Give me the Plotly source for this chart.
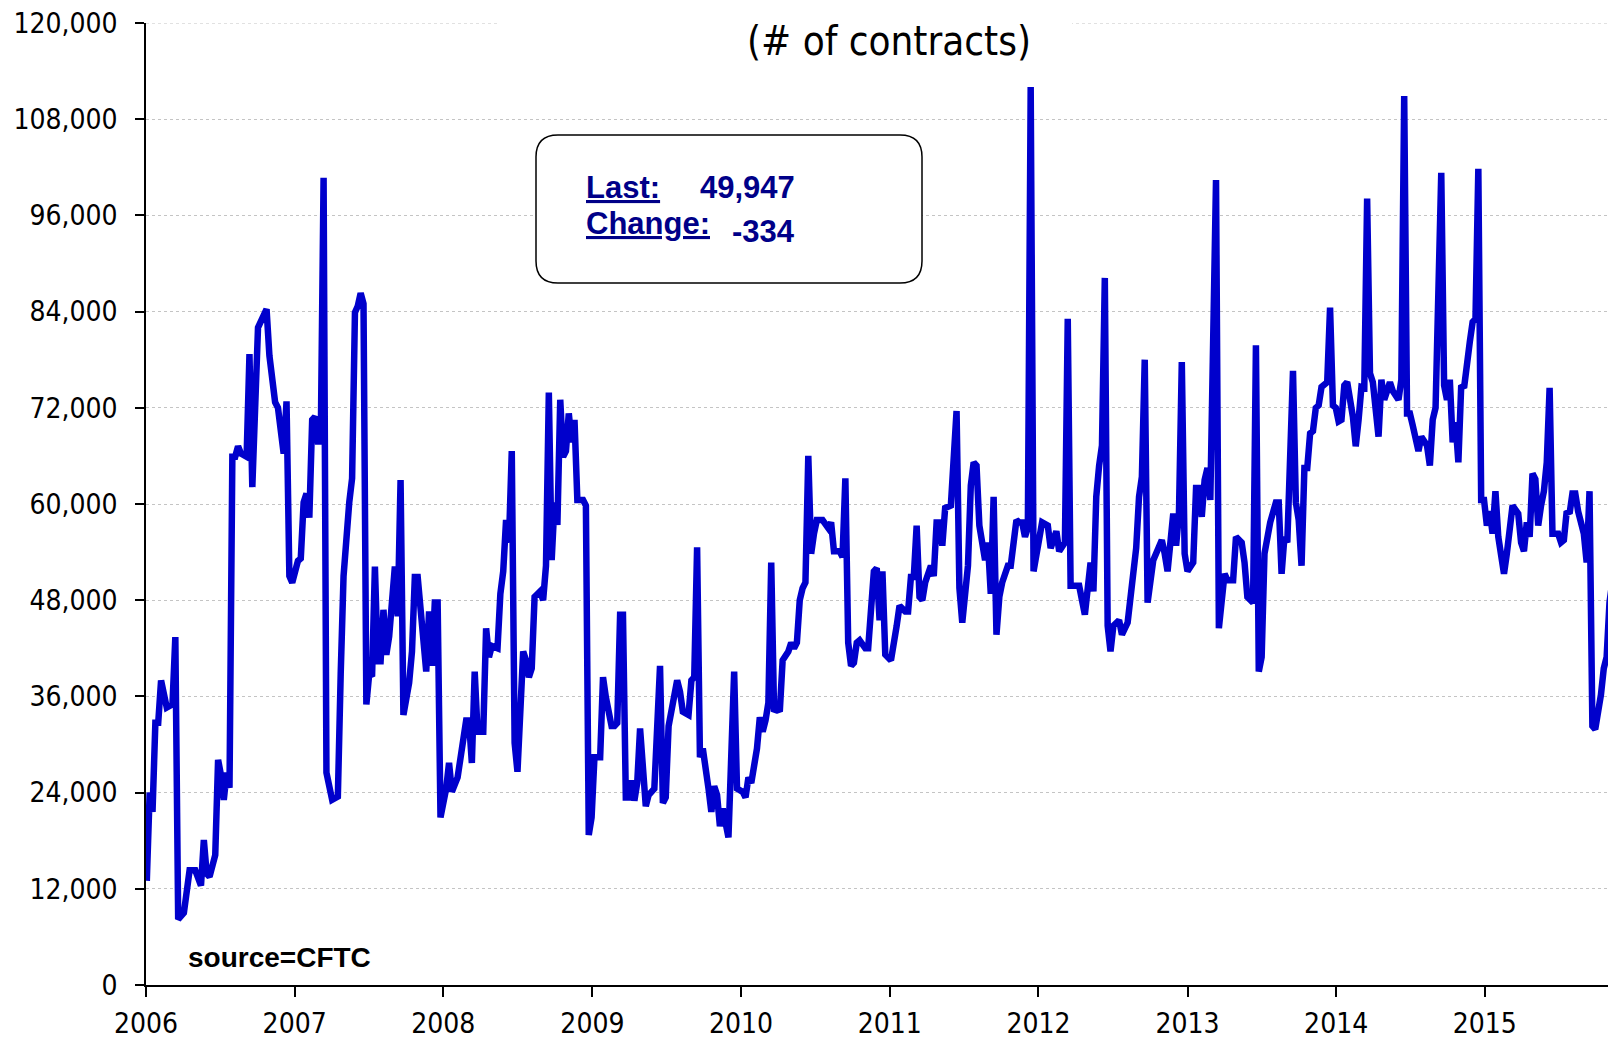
import pandas as pd
import plotly.graph_objects as go

# weeks since the first CFTC report of 2006 (Tue 2006-01-03)
weeks = [
    0, 1, 2, 3, 4, 5, 7, 9, 10, 11,
    13, 15, 17, 19, 20, 21, 22, 24, 25, 26,
    27, 28, 29, 30, 31, 32, 33, 35, 36, 37,
    39, 40, 42, 43, 45, 46, 48, 49, 50, 51,
    53, 54, 55, 56, 57, 58, 59, 60, 61, 62,
    63, 65, 67, 68, 69, 71, 72, 73, 74, 75,
    76, 77, 78, 79, 80, 81, 82, 83, 84, 85,
    87, 88, 89, 90, 92, 93, 94, 95, 97, 98,
    99, 100, 101, 102, 103, 105, 106, 107, 109, 110,
    111, 112, 113, 114, 115, 116, 118, 119, 120, 121,
    123, 124, 125, 126, 127, 128, 129, 130, 132, 133,
    134, 135, 136, 138, 139, 140, 141, 142, 143, 144,
    145, 146, 147, 148, 149, 150, 151, 153, 154, 155,
    156, 157, 159, 160, 161, 163, 164, 165, 166, 167,
    168, 169, 170, 171, 172, 173, 175, 176, 178, 180,
    181, 182, 183, 184, 185, 186, 187, 188, 190, 191,
    192, 193, 194, 195, 197, 198, 199, 200, 201, 202,
    204, 206, 207, 209, 210, 211, 212, 214, 215, 216,
    217, 218, 219, 220, 221, 222, 223, 225, 226, 227,
    228, 229, 230, 231, 232, 233, 234, 235, 237, 239,
    240, 241, 243, 244, 245, 246, 247, 248, 249, 250,
    252, 253, 255, 256, 257, 258, 259, 261, 263, 264,
    266, 267, 268, 269, 270, 271, 272, 273, 275, 276,
    277, 278, 279, 280, 282, 283, 284, 285, 286, 288,
    289, 290, 291, 292, 294, 295, 296, 297, 298, 299,
    300, 302, 303, 305, 306, 307, 308, 309, 310, 311,
    313, 314, 316, 317, 319, 320, 322, 323, 324, 326,
    327, 329, 330, 331, 332, 333, 334, 335, 336, 337,
    338, 339, 341, 342, 344, 345, 346, 347, 348, 349,
    350, 351, 353, 354, 355, 356, 357, 358, 360, 361,
    362, 363, 364, 365, 367, 368, 369, 370, 371, 372,
    373, 375, 376, 378, 379, 381, 382, 384, 385, 386,
    388, 389, 390, 391, 392, 394, 396, 397, 398, 399,
    400, 402, 403, 404, 405, 406, 407, 408, 409, 410,
    411, 412, 414, 415, 416, 417, 418, 419, 420, 421,
    423, 424, 425, 426, 427, 428, 429, 430, 432, 433,
    434, 436, 437, 439, 440, 441, 442, 443, 444, 446,
    447, 448, 449, 450, 451, 452, 454, 455, 456, 457,
    458, 459, 460, 461, 462, 464, 465, 466, 467, 468,
    469, 470, 471, 472, 473, 474, 476, 477, 478, 479,
    481, 482, 483, 484, 485, 486, 487, 488, 489, 490,
    491, 492, 493, 495, 496, 497, 498, 499, 500, 501,
    502, 504, 505, 506, 507, 508, 510, 511, 512, 513,
    514, 515,
]

contracts = [
    13000, 24000, 21600, 32700, 32700, 38000, 34600, 35000, 43400, 8200,
    9000, 14300, 14300, 12400, 18100, 13900, 13500, 16200, 28100, 26200,
    23100, 26500, 24600, 65900, 65900, 67200, 66300, 65900, 78700, 62100,
    82000, 82800, 84300, 78500, 72700, 72000, 66300, 72800, 51000, 50200,
    52900, 53200, 60200, 61300, 58300, 70500, 70900, 67800, 67800, 100700,
    26500, 23100, 23500, 38800, 51000, 60200, 63200, 83900, 84700, 86300,
    85000, 35000, 38800, 38500, 52200, 40400, 40400, 46800, 41200, 43500,
    52200, 46000, 63000, 33700, 37700, 41600, 50900, 50900, 43000, 39100,
    46600, 39800, 47700, 47700, 20900, 24500, 27700, 24100, 25900, 28700,
    30900, 33000, 33000, 27700, 39100, 31600, 31600, 44500, 40900, 42300,
    42000, 48800, 51600, 58000, 55200, 66600, 30200, 26600, 41600, 40500,
    38400, 39500, 48400, 49100, 48000, 52300, 73900, 53000, 60200, 57400,
    73000, 65900, 66600, 71300, 67700, 70500, 60500, 60500, 59800, 18700,
    20900, 28400, 28400, 38400, 35900, 32300, 32300, 32700, 46200, 46200,
    23400, 23400, 25500, 23000, 25200, 32000, 22300, 23700, 24500, 39800,
    22700, 23400, 32300, 34100, 36900, 38000, 36600, 34100, 33700, 38000,
    38400, 54600, 28400, 29500, 24500, 21600, 24800, 23700, 19800, 22000,
    18400, 39100, 24500, 24100, 23400, 25900, 25200, 29500, 33400, 31600,
    33000, 35200, 52700, 34100, 34500, 34100, 40500, 41600, 42700, 42000,
    42700, 48000, 49500, 50200, 66000, 53800, 56300, 58000, 58000, 57000,
    57700, 54100, 54100, 53400, 63200, 42700, 39800, 40200, 42700, 43000,
    42000, 42000, 51600, 52000, 45500, 51600, 41200, 40500, 44800, 47300,
    46600, 46600, 50900, 50900, 57300, 48400, 48000, 50200, 52300, 51000,
    57700, 57700, 54800, 59500, 59800, 65900, 71600, 49500, 45200, 52300,
    62300, 65200, 64800, 57300, 53000, 55200, 48800, 60900, 43700, 48400,
    50200, 52300, 52300, 58000, 57700, 57700, 55900, 57000, 112000, 51600,
    55900, 57700, 57300, 54500, 56600, 54100, 55200, 83100, 49800, 49800,
    49800, 46200, 49500, 52700, 49100, 60900, 64800, 67300, 88200, 44800,
    41600, 44800, 45500, 43700, 45200, 48800, 52700, 54500, 60900, 63400,
    78000, 47700, 53000, 53800, 54800, 55500, 53800, 51600, 58800, 54800,
    58800, 77700, 53800, 51600, 52700, 62000, 62000, 58400, 63000, 64500,
    60500, 100400, 44500, 51300, 50500, 50500, 55900, 55200, 52700, 48400,
    47700, 79800, 39100, 40900, 53800, 57700, 60200, 60200, 51300, 55900,
    55200, 76600, 60200, 58000, 52300, 64500, 64500, 68800, 69100, 72000,
    72300, 74600, 75200, 84500, 72300, 72000, 70300, 70500, 74800, 75200,
    70900, 67200, 70500, 74600, 74500, 98100, 76300, 75200, 68400, 75500,
    73000, 75200, 74100, 73000, 75500, 110900, 71300, 71300, 69800, 66600,
    68400, 67700, 67300, 64800, 70500, 72000, 101300, 74800, 73000, 75500,
    67700, 70200, 65200, 74800, 74500, 80200, 82700, 83100, 101800, 60500,
    60500, 57300, 59100, 56300, 61600, 55900, 51300, 53800, 58000, 59800,
    58800, 55200, 54100, 57700, 55900, 63800, 63100, 57300, 59800, 61600,
    65200, 74500, 56300, 56300, 55200, 55500, 59100, 58800, 61300, 61300,
    59100, 56300, 52700, 61600, 32300, 31900, 36200, 39500, 40900, 47700,
    50281, 49947,
]

y_ticks = list(range(0, 120001, 12000))
last_value = "49,947"
change_value = "-334"

start = pd.Timestamp("2006-01-03")
dates = [start + pd.Timedelta(days=7 * w) for w in weeks]

# the page body has an 8px margin, so the figure is 8px smaller than the window
OFF = 8
W, H = 1616 - OFF, 1039 - OFF
# plot area in window pixels: x 146..1616, y 23..985
X0, X1, Y0, Y1 = 146, 1616, 23, 985
L, R, T, B = X0 - OFF, 0, Y0 - OFF, H - (Y1 - OFF)
PW, PH = X1 - X0, Y1 - Y0


def px(x):
    return (x - X0) / PW


def py(y):
    return (Y1 - y) / PH


def rounded_box(x0, y0, x1, y1, r):
    rx, ry = r / PW, r / PH
    a, b, c, d = px(x0), py(y1), px(x1), py(y0)
    return (f"M {a + rx},{b} L {c - rx},{b} Q {c},{b} {c},{b + ry} "
            f"L {c},{d - ry} Q {c},{d} {c - rx},{d} L {a + rx},{d} "
            f"Q {a},{d} {a},{d - ry} L {a},{b + ry} Q {a},{b} {a + rx},{b} Z")


fig = go.Figure()
fig.add_trace(go.Scatter(
    x=dates, y=contracts, mode="lines",
    line=dict(color="#0000CC", width=6.5),
    showlegend=False,
))

tick_font = dict(family="DejaVu Sans Condensed, DejaVu Sans, sans-serif", size=28, color="#000000")
text_font = "Liberation Sans, Arial, sans-serif"

fig.update_layout(
    width=W, height=H,
    margin=dict(l=L, r=R, t=T, b=B, autoexpand=False),
    paper_bgcolor="white", plot_bgcolor="white",
    xaxis=dict(
        type="date", automargin=False,
        range=[pd.Timestamp("2006-01-01"), dates[-1] + pd.Timedelta(days=2)],
        tick0="2006-01-01", dtick="M12", tickformat="%Y",
        ticks="outside", ticklen=10, tickwidth=1.5, tickcolor="black",
        showline=True, linecolor="black", linewidth=1.5,
        showgrid=False, zeroline=False,
        tickfont=tick_font, ticklabelstandoff=3, ticklabeloverflow="allow",
    ),
    yaxis=dict(
        range=[0, 120000], tickvals=y_ticks, tickformat=",", automargin=False,
        ticks="outside", ticklen=9, tickwidth=1.5, tickcolor="black",
        showline=True, linecolor="black", linewidth=1.5,
        showgrid=True, gridcolor="#C4C4C4", griddash="dot", gridwidth=1,
        zeroline=False,
        tickfont=tick_font, ticklabelstandoff=12, ticklabeloverflow="allow",
    ),
    shapes=[
        # top gridline, which plotly leaves out at the edge of the range
        dict(type="line", xref="paper", yref="y", layer="below",
             x0=0, x1=1, y0=y_ticks[-1], y1=y_ticks[-1],
             line=dict(color="#C4C4C4", width=1, dash="dot")),
        dict(type="rect", xref="paper", yref="paper", layer="above",
             x0=px(500), x1=px(1072), y0=py(62), y1=py(OFF),
             fillcolor="white", line=dict(width=0)),
        dict(type="path", xref="paper", yref="paper", layer="above",
             path=rounded_box(536, 135, 922, 283, 22),
             fillcolor="white", line=dict(color="black", width=1.5)),
    ],
)

navy = "#000088"
notes = [
    (889, 41, "center", "(# of contracts)", "DejaVu Sans Condensed, DejaVu Sans, sans-serif", 40, "black"),
    (584, 188, "left", "<b><u>Last:</u></b>", text_font, 31, navy),
    (797, 188, "right", f"<b>{last_value}</b>", text_font, 31, navy),
    (584, 224, "left", "<b><u>Change:</u></b>", text_font, 31, navy),
    (797, 231, "right", f"<b>{change_value}</b>", text_font, 31, navy),
    (186, 957, "left", "<b>source=CFTC</b>", text_font, 28, "black"),
]
for x, y, anchor, text, family, size, color in notes:
    fig.add_annotation(
        x=px(x), y=py(y), xref="paper", yref="paper",
        xanchor=anchor, yanchor="middle",
        text=text, showarrow=False,
        font=dict(family=family, size=size, color=color),
    )

fig.write_html("out.html")
